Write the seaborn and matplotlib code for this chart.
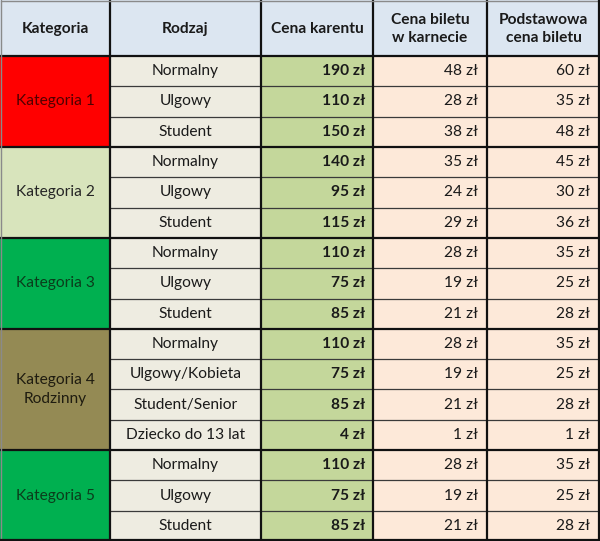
import matplotlib
matplotlib.use("Agg")
import matplotlib.pyplot as plt
import seaborn as sns
from matplotlib.patches import Rectangle

sns.set_theme(style="white")
plt.rcParams['font.family'] = ['Lato', 'DejaVu Sans']

headers = ["Kategoria", "Rodzaj", "Cena karentu", "Cena biletu\nw karnecie", "Podstawowa\ncena biletu"]
categories = ["Kategoria 1", "Kategoria 2", "Kategoria 3", "Kategoria 4\nRodzinny", "Kategoria 5"]
group_sizes = [3, 3, 3, 4, 3]
rodzaj = ["Normalny", "Ulgowy", "Student",
          "Normalny", "Ulgowy", "Student",
          "Normalny", "Ulgowy", "Student",
          "Normalny", "Ulgowy/Kobieta", "Student/Senior", "Dziecko do 13 lat",
          "Normalny", "Ulgowy", "Student"]
cena_karnetu = [190, 110, 150, 140, 95, 115, 110, 75, 85, 110, 75, 85, 4, 110, 75, 85]
cena_w_karnecie = [48, 28, 38, 35, 24, 29, 28, 19, 21, 28, 19, 21, 1, 28, 19, 21]
cena_podstawowa = [60, 35, 48, 45, 30, 36, 35, 25, 28, 35, 25, 28, 1, 35, 25, 28]

cat_colors = ["#FF0000", "#D8E4BC", "#00B050", "#948A54", "#00B050"]
cat_text = ["#500000", "#262626", "#0b3d1c", "#1f1c10", "#0b3d1c"]
header_bg = "#DCE6F1"
rodzaj_bg = "#EEECE1"
karnet_bg = "#C4D79B"
pink_bg = "#FDE9D9"

FS = 11.2
W, H = 600, 541
col_edges = [0, 110, 261, 373, 487, 600]
header_h = 56
n_rows = len(rodzaj)
row_h = (H - header_h) / n_rows

fig = plt.figure(figsize=(W / 100, H / 100), dpi=100)
ax = fig.add_axes([0, 0, 1, 1])
ax.set_xlim(0, W)
ax.set_ylim(H, 0)
ax.axis("off")

def ry(i):
    return header_h + i * row_h

# header
for c in range(5):
    x0, x1 = col_edges[c], col_edges[c + 1]
    ax.add_patch(Rectangle((x0, 0), x1 - x0, header_h, facecolor=header_bg, edgecolor="none"))
    ax.text((x0 + x1) / 2, header_h / 2 + 1, headers[c], ha="center", va="center",
            fontsize=FS, fontweight="bold", color="#1a1a1a", linespacing=1.45)

# body cells
start = 0
for g, size in enumerate(group_sizes):
    y0 = ry(start)
    ax.add_patch(Rectangle((col_edges[0], y0), col_edges[1] - col_edges[0], size * row_h,
                           facecolor=cat_colors[g], edgecolor="none"))
    ax.text((col_edges[0] + col_edges[1]) / 2, y0 + size * row_h / 2, categories[g],
            ha="center", va="center", fontsize=FS, color=cat_text[g], linespacing=1.45)
    start += size

for i in range(n_rows):
    y0 = ry(i)
    yc = y0 + row_h / 2
    for c, bg in zip(range(1, 5), [rodzaj_bg, karnet_bg, pink_bg, pink_bg]):
        ax.add_patch(Rectangle((col_edges[c], y0), col_edges[c + 1] - col_edges[c], row_h,
                               facecolor=bg, edgecolor="none"))
    ax.text((col_edges[1] + col_edges[2]) / 2, yc, rodzaj[i], ha="center", va="center",
            fontsize=FS, color="#1a1a1a")
    ax.text(col_edges[3] - 8, yc, f"{cena_karnetu[i]} zł", ha="right", va="center",
            fontsize=FS, fontweight="bold", color="#1a1a1a")
    ax.text(col_edges[4] - 9, yc, f"{cena_w_karnecie[i]} zł", ha="right", va="center",
            fontsize=FS, color="#1a1a1a")
    ax.text(col_edges[5] - 10, yc, f"{cena_podstawowa[i]} zł", ha="right", va="center",
            fontsize=FS, color="#1a1a1a")

# thin row lines within groups (not in category column)
group_bounds = set()
s = 0
for size in group_sizes:
    s += size
    group_bounds.add(s)
for i in range(1, n_rows):
    y = ry(i)
    if i in group_bounds:
        ax.plot([0, W], [y, y], color="#111111", lw=1.6, solid_capstyle="butt")
    else:
        ax.plot([col_edges[1], W], [y, y], color="#3a3a3a", lw=0.9, solid_capstyle="butt")

# header bottom
ax.plot([0, W], [header_h, header_h], color="#111111", lw=1.6)
# vertical lines
for x in col_edges[1:-1]:
    ax.plot([x, x], [0, H], color="#111111", lw=1.6)
# outer border
ax.plot([0.5, W - 1], [0.8, 0.8], color="#8a8a8a", lw=1.0)
ax.plot([0.8, 0.8], [0, H], color="#8a8a8a", lw=1.0)
ax.plot([W - 1.5, W - 1.5], [0, H], color="#111111", lw=1.6)
ax.plot([0, W], [H - 1.5, H - 1.5], color="#111111", lw=1.6)

fig.savefig("out.png", dpi=100)
